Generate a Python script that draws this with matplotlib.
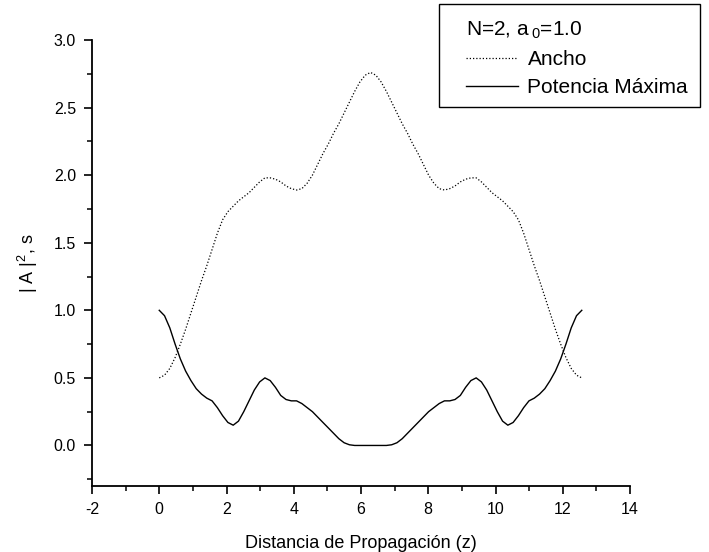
import numpy as np
import matplotlib
matplotlib.use("Agg")
import matplotlib.pyplot as plt
from matplotlib.patches import Rectangle
from matplotlib.ticker import MultipleLocator

plt.rcParams['font.family'] = ['Liberation Sans', 'DejaVu Sans']
plt.rcParams['mathtext.fontset'] = 'custom'
plt.rcParams['mathtext.rm'] = 'Liberation Sans'
plt.rcParams['mathtext.it'] = 'Liberation Sans'

# propagation distance samples (0 .. 4*pi)
z = [0.000, 0.157, 0.314, 0.471, 0.628, 0.785, 0.942, 1.100, 1.257, 1.414,
     1.571, 1.728, 1.885, 2.042, 2.199, 2.356, 2.513, 2.670, 2.827, 2.985,
     3.142, 3.299, 3.456, 3.613, 3.770, 3.927, 4.084, 4.241, 4.398, 4.555,
     4.712, 4.869, 5.027, 5.184, 5.341, 5.498, 5.655, 5.812, 5.969, 6.126,
     6.283, 6.440, 6.597, 6.754, 6.912, 7.069, 7.226, 7.383, 7.540, 7.697,
     7.854, 8.011, 8.168, 8.325, 8.482, 8.639, 8.796, 8.954, 9.111, 9.268,
     9.425, 9.582, 9.739, 9.896, 10.053, 10.210, 10.367, 10.524, 10.681, 10.838,
     10.996, 11.153, 11.310, 11.467, 11.624, 11.781, 11.938, 12.095, 12.252, 12.409,
     12.566]

ancho = [0.50, 0.52, 0.57, 0.65, 0.75, 0.86, 0.98, 1.10, 1.22, 1.33,
         1.45, 1.57, 1.67, 1.73, 1.77, 1.81, 1.84, 1.87, 1.91, 1.95,
         1.98, 1.98, 1.97, 1.95, 1.92, 1.90, 1.89, 1.90, 1.94, 2.00,
         2.08, 2.16, 2.23, 2.31, 2.38, 2.46, 2.54, 2.62, 2.69, 2.74,
         2.76, 2.74, 2.69, 2.62, 2.54, 2.46, 2.38, 2.31, 2.23, 2.16,
         2.08, 2.00, 1.94, 1.90, 1.89, 1.90, 1.92, 1.95, 1.97, 1.98,
         1.98, 1.95, 1.91, 1.87, 1.84, 1.81, 1.77, 1.73, 1.67, 1.57,
         1.45, 1.33, 1.22, 1.10, 0.98, 0.86, 0.75, 0.65, 0.57, 0.52,
         0.50]

potencia = [1.00, 0.96, 0.87, 0.75, 0.64, 0.55, 0.48, 0.42, 0.38, 0.35,
            0.33, 0.28, 0.22, 0.17, 0.15, 0.18, 0.25, 0.33, 0.41, 0.47,
            0.50, 0.48, 0.43, 0.37, 0.34, 0.33, 0.33, 0.31, 0.28, 0.25,
            0.21, 0.17, 0.13, 0.09, 0.05, 0.02, 0.005, 0.00, 0.00, 0.00,
            0.00, 0.00, 0.00, 0.00, 0.005, 0.02, 0.05, 0.09, 0.13, 0.17,
            0.21, 0.25, 0.28, 0.31, 0.33, 0.33, 0.34, 0.37, 0.43, 0.48,
            0.50, 0.47, 0.41, 0.33, 0.25, 0.18, 0.15, 0.17, 0.22, 0.28,
            0.33, 0.35, 0.38, 0.42, 0.48, 0.55, 0.64, 0.75, 0.87, 0.96,
            1.00]

xticks = [-2, 0, 2, 4, 6, 8, 10, 12, 14]
yticks = [0.0, 0.5, 1.0, 1.5, 2.0, 2.5, 3.0]

W, H = 709, 552
fig = plt.figure(figsize=(W / 100, H / 100), dpi=100)
ax = fig.add_axes([92 / W, 1 - 486 / H, (630 - 92) / W, (486 - 40) / H])

l1, = ax.plot(z, ancho, color='black', lw=0.9, linestyle=(0, (1, 1.6)), label='Ancho')
l2, = ax.plot(z, potencia, color='black', lw=1.0, linestyle='-', label='Potencia Máxima')

ax.set_xlim(-2, 14)
ax.set_ylim(-0.3, 3.0)
ax.set_xticks(xticks)
ax.set_xticklabels([str(t) for t in xticks])
ax.set_yticks(yticks)
ax.set_yticklabels([f"{t:.1f}" for t in yticks])
ax.xaxis.set_minor_locator(MultipleLocator(1))
ax.yaxis.set_minor_locator(MultipleLocator(0.25))
for s in ['top', 'right']:
    ax.spines[s].set_visible(False)
for s in ['left', 'bottom']:
    ax.spines[s].set_linewidth(1.3)
ax.tick_params(which='major', direction='out', length=6, width=1.2, labelsize=11.5, pad=5.5)
ax.tick_params(which='minor', direction='out', length=3.5, width=1.1)

ax.set_xlabel('Distancia de Propagación (z)', fontsize=13, labelpad=13)
ax.set_ylabel(r'| A |$^{2}$, s', fontsize=13, labelpad=10)

# legend box
fig.patches.append(Rectangle((439 / W, 1 - 107 / H), (700 - 439) / W, (107 - 4) / H,
                             transform=fig.transFigure, fill=False, edgecolor='black', lw=1.0))
leg = fig.legend(handles=[l1, l2], loc='upper left',
                 bbox_to_anchor=(466 / W, 1 - 20 / H), frameon=False,
                 title=r'N=2, a$\,_{0}$=1.0', title_fontsize=15, fontsize=15,
                 handlelength=2.5, handletextpad=0.45, borderpad=0, borderaxespad=0,
                 labelspacing=0.42, alignment='left')

fig.savefig('out.png', dpi=100)
